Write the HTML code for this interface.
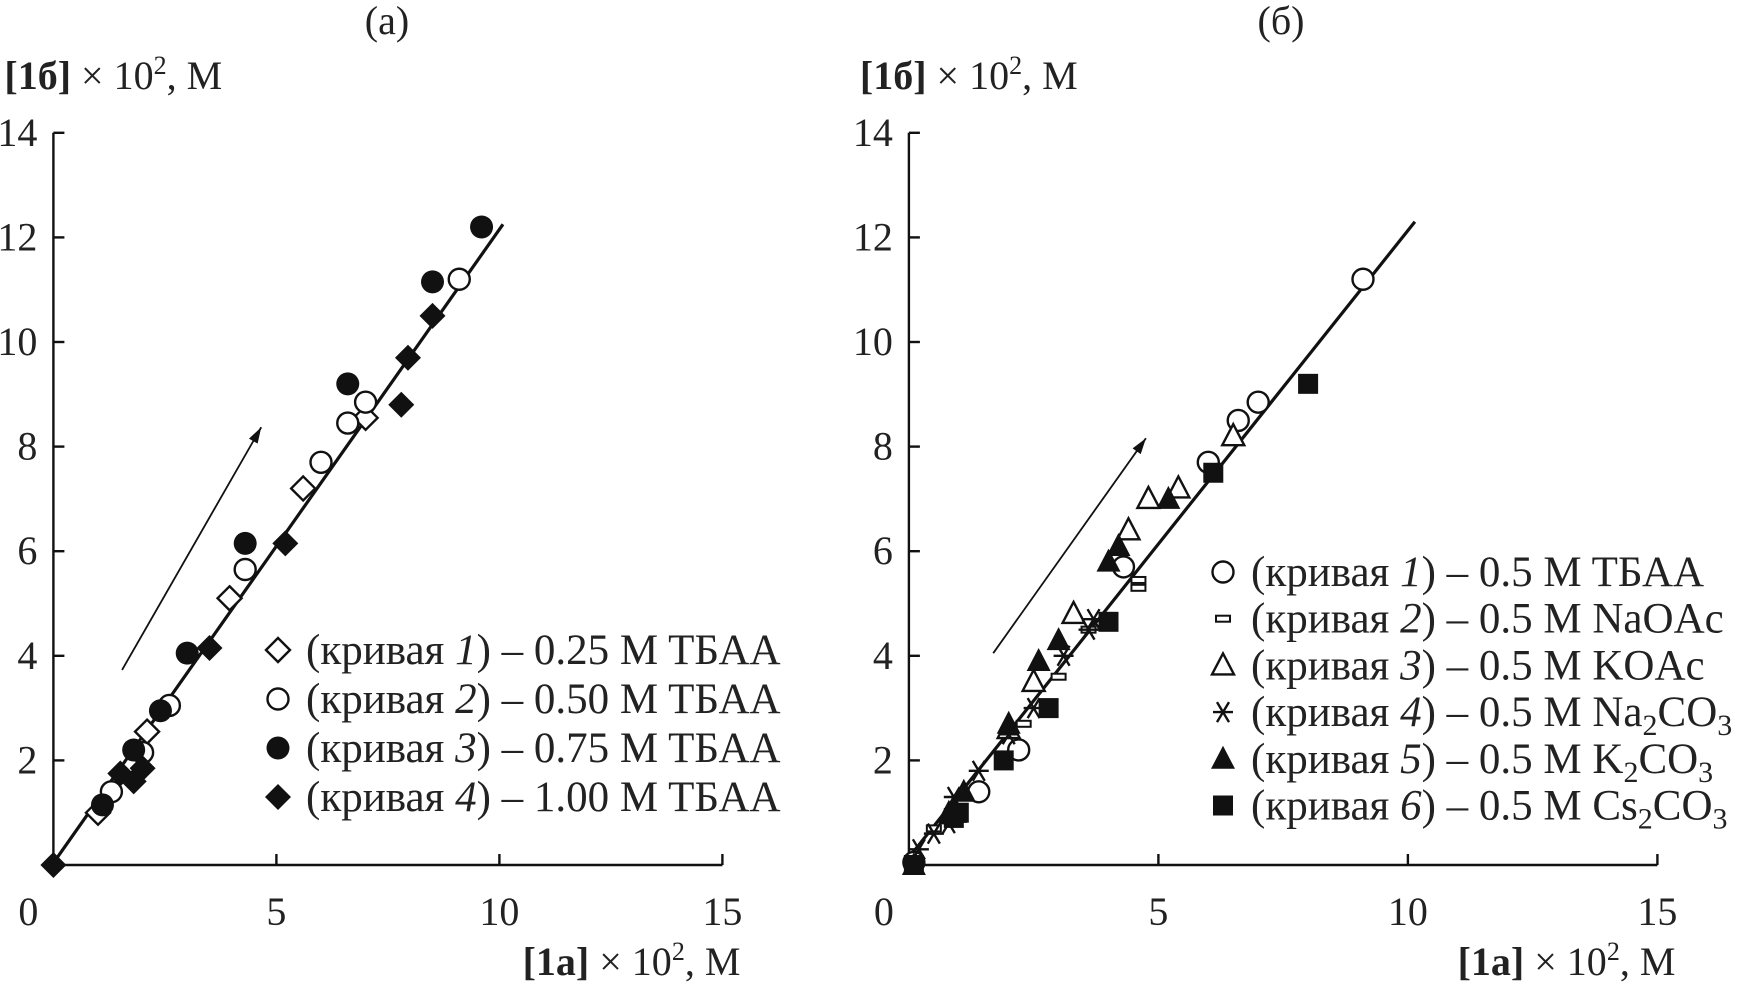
<!DOCTYPE html>
<html><head><meta charset="utf-8"><style>
body{margin:0;background:#fff}
svg{display:block;font-family:"Liberation Serif",serif}
</style></head><body>
<svg id="c" width="1744" height="989" viewBox="0 0 1744 989" xmlns="http://www.w3.org/2000/svg"></svg>
<script>
const xTicks=[0,5,10,15];
const yTicks=[2,4,6,8,10,12,14];
const yTickLabels=["2","4","6","8","10","12","14"];
// panel (a)
const aS1x=[1.0,2.1,3.95,5.6,7.0];
const aS1y=[1.0,2.55,5.1,7.2,8.55];
const aS2x=[1.3,2.0,2.6,4.3,6.0,6.6,7.0,9.1];
const aS2y=[1.4,2.15,3.05,5.65,7.7,8.45,8.85,11.2];
const aS3x=[1.1,1.8,2.4,3.0,4.3,6.6,8.5,9.6];
const aS3y=[1.15,2.2,2.95,4.05,6.15,9.2,11.15,12.2];
const aS4x=[0.0,1.5,1.8,2.0,3.5,5.2,7.8,7.95,8.5];
const aS4y=[0.0,1.75,1.6,1.85,4.15,6.15,8.8,9.7,10.5];
const aLineX=[0.05,10.08];
const aLineY=[0.1,12.25];
const aArrowX=[1.54,4.66];
const aArrowY=[3.73,8.37];
// panel (б)
const bS1x=[0.1,1.4,2.2,4.3,6.0,6.6,7.0,9.1];
const bS1y=[0.05,1.4,2.2,5.7,7.7,8.5,8.85,11.2];
const bS2x=[0.5,2.3,3.0,3.6,4.6,4.6];
const bS2y=[0.7,2.7,3.6,4.5,5.3,5.45];
const bS3x=[0.9,2.0,2.5,3.3,4.4,4.8,5.4,6.5];
const bS3y=[1.0,2.6,3.5,4.8,6.4,7.0,7.2,8.2];
const bS4x=[0.2,0.5,0.8,0.9,1.4,2.0,2.5,3.1,3.6,3.7];
const bS4y=[0.3,0.6,0.8,1.3,1.8,2.5,3.0,4.0,4.5,4.7];
const bS5x=[0.1,0.8,1.1,2.0,2.6,3.0,4.0,4.2,5.2];
const bS5y=[0.0,1.0,1.4,2.7,3.9,4.3,5.8,6.1,7.0];
const bS6x=[0.1,0.9,1.0,1.9,2.8,4.0,6.1,8.0];
const bS6y=[0.0,0.9,1.0,2.0,3.0,4.65,7.5,9.2];
const bLineX=[-0.07,10.14];
const bLineY=[0.06,12.3];
const bArrowX=[1.69,4.75];
const bArrowY=[4.05,8.16];

const NS="http://www.w3.org/2000/svg";
const svg=document.getElementById('c');
function el(tag,attrs,parent){const e=document.createElementNS(NS,tag);for(const k in attrs)e.setAttribute(k,attrs[k]);(parent||svg).appendChild(e);return e;}
const Y0=865,YPX=52.3;
function yS(v){return Y0-v*YPX;}

function marker(g,type,cx,cy){
  let m;
  if(type==='odiamond'){m=el('polygon',{points:`${cx},${cy-12} ${cx+12},${cy} ${cx},${cy+12} ${cx-12},${cy}`,fill:'#fff',stroke:'#111','stroke-width':2.4},g);}
  else if(type==='fdiamond'){m=el('polygon',{points:`${cx},${cy-13} ${cx+13},${cy} ${cx},${cy+13} ${cx-13},${cy}`,fill:'#111'},g);}
  else if(type==='ocircle'){m=el('circle',{cx:cx,cy:cy,r:10.5,fill:'#fff',stroke:'#111','stroke-width':2.4},g);}
  else if(type==='fcircle'){m=el('circle',{cx:cx,cy:cy,r:11.5,fill:'#111'},g);}
  else if(type==='dash'){m=el('rect',{x:cx-7,y:cy-3,width:14,height:6,fill:'#fff',stroke:'#111','stroke-width':2},g);}
  else if(type==='otri'){m=el('polygon',{points:`${cx},${cy-12} ${cx+11},${cy+9} ${cx-11},${cy+9}`,fill:'#fff',stroke:'#111','stroke-width':2.4},g);}
  else if(type==='ftri'){m=el('polygon',{points:`${cx},${cy-13} ${cx+12},${cy+10} ${cx-12},${cy+10}`,fill:'#111'},g);}
  else if(type==='fsquare'){m=el('rect',{x:cx-10,y:cy-10,width:20,height:20,fill:'#111'},g);}
  else if(type==='star'){m=el('path',{d:`M${cx-10},${cy}H${cx+10}M${cx-6},${cy-10}L${cx+6},${cy+10}M${cx+6},${cy-10}L${cx-6},${cy+10}`,stroke:'#111','stroke-width':2.4,fill:'none'},g);}
  return m;
}

function panel(key,X0,XPX,title,titleX,series,lineX,lineY,arrX,arrY,legend,legX,legY0,legDY){
  const xS=v=>X0+v*XPX;
  const g=el('g',{});
  
  
  let t=el('text',{x:titleX,y:34,'font-size':40,'text-anchor':'middle',fill:'#222'},g);t.textContent=title;
  
  const ya=el('text',{x:X0-49,y:89,'font-size':40,fill:'#222'},g);
  ya.innerHTML='<tspan font-weight="bold">[1б]</tspan> × 10<tspan dy="-15" font-size="26">2</tspan><tspan dy="15">, M</tspan>';
  
  const xa=el('text',{x:xS(15)+18,y:975,'font-size':40,'text-anchor':'end',fill:'#222'},g);
  xa.innerHTML='<tspan font-weight="bold">[1a]</tspan> × 10<tspan dy="-15" font-size="26">2</tspan><tspan dy="15">, M</tspan>';
  
  const ax=el('path',{d:`M${X0},${yS(14)}V${Y0}H${xS(15)}`,stroke:'#111','stroke-width':2.4,fill:'none'},g);
  
  xTicks.forEach(v=>{
    if(v>0)el('line',{x1:xS(v),x2:xS(v),y1:Y0,y2:Y0-11,stroke:'#111','stroke-width':2.4},g);
    const tl=el('text',{x:v===0?X0-25:xS(v),y:Y0+60,'font-size':40,'text-anchor':'middle',fill:'#222'},g);tl.textContent=v;
    
  });
  yTicks.forEach((v,i)=>{
    el('line',{x1:X0,x2:X0+11,y1:yS(v),y2:yS(v),stroke:'#111','stroke-width':2.4},g);
    const tl=el('text',{x:X0-16,y:yS(v)+13,'font-size':40,'text-anchor':'end',fill:'#222'},g);tl.textContent=yTickLabels[i];
    
  });
  const fl=el('line',{x1:xS(lineX[0]),y1:yS(lineY[0]),x2:xS(lineX[1]),y2:yS(lineY[1]),stroke:'#111','stroke-width':3.2},g);
  
  const x1=xS(arrX[0]),y1=yS(arrY[0]),x2=xS(arrX[1]),y2=yS(arrY[1]);
  const ar=el('line',{x1:x1,y1:y1,x2:x2,y2:y2,stroke:'#111','stroke-width':1.8},g);
  
  const ang=Math.atan2(y2-y1,x2-x1),L=16,W=5;
  const hx=x2-L*Math.cos(ang),hy=y2-L*Math.sin(ang);
  el('polygon',{points:`${x2},${y2} ${hx+W*Math.sin(ang)},${hy-W*Math.cos(ang)} ${hx-W*Math.sin(ang)},${hy+W*Math.cos(ang)}`,fill:'#111'},g);
  series.forEach((s,si)=>{
    const sg=el('g',{},g);
    
    
    s.x.forEach((xv,i)=>{
      const m=marker(sg,s.type,xS(xv),yS(s.y[i]));
      
      
    });
  });
  legend.forEach((row,i)=>{
    const lg=el('g',{},g);
    
    
    const cy=legY0+i*legDY;
    marker(lg,series[i].type,legX,cy);
    const tx=el('text',{x:legX+28,y:cy+14,'font-size':43,fill:'#222'},lg);
    tx.innerHTML=row;
  });
}

panel('a',53.4,44.6,'(a)',387,
 [{type:'odiamond',x:aS1x,y:aS1y},{type:'ocircle',x:aS2x,y:aS2y},{type:'fcircle',x:aS3x,y:aS3y},{type:'fdiamond',x:aS4x,y:aS4y}],
 aLineX,aLineY,aArrowX,aArrowY,
 ['(кривая <tspan font-style="italic">1</tspan>) – 0.25 M TБАА','(кривая <tspan font-style="italic">2</tspan>) – 0.50 M TБАА','(кривая <tspan font-style="italic">3</tspan>) – 0.75 M TБАА','(кривая <tspan font-style="italic">4</tspan>) – 1.00 M TБАА'],
 278,650,49);

panel('b',908.9,49.9,'(б)',1281,
 [{type:'ocircle',x:bS1x,y:bS1y},{type:'dash',x:bS2x,y:bS2y},{type:'otri',x:bS3x,y:bS3y},{type:'star',x:bS4x,y:bS4y},{type:'ftri',x:bS5x,y:bS5y},{type:'fsquare',x:bS6x,y:bS6y}],
 bLineX,bLineY,bArrowX,bArrowY,
 ['(кривая <tspan font-style="italic">1</tspan>) – 0.5 M TБАА','(кривая <tspan font-style="italic">2</tspan>) – 0.5 M NaOAc','(кривая <tspan font-style="italic">3</tspan>) – 0.5 M KOAc','(кривая <tspan font-style="italic">4</tspan>) – 0.5 M Na<tspan dy="9" font-size="30">2</tspan><tspan dy="-9">CO</tspan><tspan dy="9" font-size="30">3</tspan>','(кривая <tspan font-style="italic">5</tspan>) – 0.5 M K<tspan dy="9" font-size="30">2</tspan><tspan dy="-9">CO</tspan><tspan dy="9" font-size="30">3</tspan>','(кривая <tspan font-style="italic">6</tspan>) – 0.5 M Cs<tspan dy="9" font-size="30">2</tspan><tspan dy="-9">CO</tspan><tspan dy="9" font-size="30">3</tspan>'],
 1223,572,46.7);
</script>
</body></html>
